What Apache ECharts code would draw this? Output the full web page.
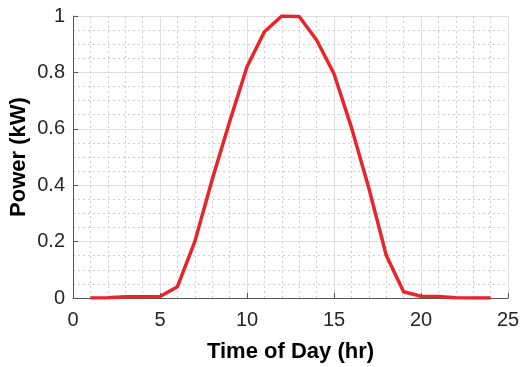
<!DOCTYPE html>
<html>
<head>
<meta charset="utf-8">
<script src="https://cdn.jsdelivr.net/npm/echarts@6/dist/echarts.min.js"></script>
<style>
  html, body { margin: 0; padding: 0; background: #fff; }
  #main { width: 521px; height: 367px; }
</style>
</head>
<body>
<div id="main"></div>
<script>
// hourly PV output
const hours = [1, 2, 3, 4, 5, 6, 7, 8, 9, 10, 11, 12, 13, 14, 15, 16, 17, 18, 19, 20, 21, 22, 23, 24];
const power = [0, 0.001, 0.004, 0.004, 0.005, 0.04, 0.2, 0.42, 0.625, 0.82, 0.944, 1.0, 0.998, 0.915, 0.795, 0.605, 0.39, 0.152, 0.022, 0.006, 0.005, 0.001, 0, 0];
const xTicks = [0, 5, 10, 15, 20, 25];
const yTicks = [0, 0.2, 0.4, 0.6, 0.8, 1];

const chart = echarts.init(document.getElementById('main'));

const axisFont = { fontFamily: 'Liberation Sans, Arial, sans-serif', fontSize: 20, color: '#262626' };
const nameFont = { fontFamily: 'Liberation Sans, Arial, sans-serif', fontSize: 22, fontWeight: 'bold', color: '#000' };

chart.setOption({
  animation: false,
  grid: { left: 73, right: 13, top: 16, bottom: 69, outerBoundsMode: 'none' },
  xAxis: {
    type: 'value',
    min: xTicks[0],
    max: xTicks[xTicks.length - 1],
    interval: 5,
    name: 'Time of Day (hr)',
    nameLocation: 'middle',
    nameGap: 43,
    nameMoveOverlap: false,
    nameTextStyle: nameFont,
    axisLine: { show: true, onZero: false, lineStyle: { color: '#555', width: 1 } },
    axisTick: { show: true, inside: true, length: 5, lineStyle: { color: '#555' } },
    axisLabel: Object.assign({ margin: 12 }, axisFont),
    splitLine: { show: true, lineStyle: { color: '#dedede', width: 1 } },
    minorTick: { show: false, splitNumber: 5 },
    minorSplitLine: { show: true, lineStyle: { color: '#cdcdcd', type: [2, 3], width: 1 } }
  },
  yAxis: {
    type: 'value',
    min: yTicks[0],
    max: yTicks[yTicks.length - 1],
    interval: 0.2,
    name: 'Power (kW)',
    nameLocation: 'middle',
    nameGap: 43,
    nameMoveOverlap: false,
    nameTextStyle: nameFont,
    axisLine: { show: true, onZero: false, lineStyle: { color: '#555', width: 1 } },
    axisTick: { show: true, inside: true, length: 5, lineStyle: { color: '#555' } },
    axisLabel: Object.assign({ margin: 8 }, axisFont),
    splitLine: { show: true, lineStyle: { color: '#dedede', width: 1 } },
    minorTick: { show: false, splitNumber: 4 },
    minorSplitLine: { show: true, lineStyle: { color: '#cdcdcd', type: [2, 3], width: 1 } }
  },
  series: [{
    type: 'line',
    data: hours.map((h, i) => [h, power[i]]),
    showSymbol: false,
    lineStyle: { color: '#e8262a', width: 3.5, join: 'round' },
    z: 5
  }]
});
</script>
</body>
</html>
